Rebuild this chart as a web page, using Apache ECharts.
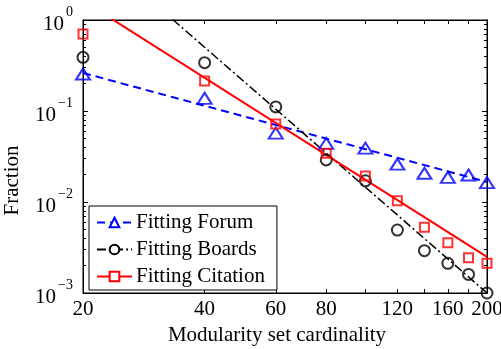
<!DOCTYPE html>
<html><head><meta charset="utf-8">
<script src="https://cdn.jsdelivr.net/npm/echarts@6/dist/echarts.min.js"></script>
<style>html,body{margin:0;padding:0;background:#fff}#c{width:501px;height:349px}</style>
</head><body><div id="c"></div>
<script>
// ---- data ----
const xValues = [20, 40, 60, 80, 100, 120, 140, 160, 180, 200];
const forum = [0.255, 0.138, 0.057, 0.044, 0.039, 0.026, 0.0207, 0.0187, 0.0198, 0.0163];
const boards = [0.389, 0.34, 0.111, 0.029, 0.0171, 0.00492, 0.00292, 0.00212, 0.0016, 0.001];
const citation = [0.70, 0.214, 0.072, 0.0343, 0.0193, 0.0103, 0.00527, 0.00357, 0.00244, 0.00212];
const fitX = [20, 200];
const forumFit = [0.262, 0.0166];
const boardsFit = [7.3, 0.001];
const citationFit = [1.63, 0.0025];
const xTickValues = [20, 40, 60, 80, 100, 120, 140, 160, 180, 200];
const xTickLabels = [20, 40, 60, 80, 120, 160, 200];
const yDecades = [-3, -2, -1, 0];
const yMinorMult = [2, 3, 4, 5, 6, 7, 8, 9];
const seriesNames = ['Fitting Forum', 'Fitting Boards', 'Fitting Citation'];

// ---- helpers ----
const L = Math.log10;
const FONT = "'Liberation Serif','Times New Roman',serif";
const pts = (xs, ys) => xs.map((x, i) => [L(x), L(ys[i])]);
const yMinor = [];
yDecades.slice(0, -1).forEach(d => yMinorMult.forEach(m => yMinor.push(d + L(m))));

const xMin = L(20), xMax = L(200);
function xAxisDef(pos, show) {
  return {
    show: true, type: 'value', position: pos, min: xMin, max: xMax, gridIndex: 0,
    axisLine: { show: true, onZero: false, lineStyle: { color: '#000', width: 1 } },
    axisTick: { show: true, inside: true, length: 4, customValues: xTickValues.map(L), lineStyle: { color: '#000' } },
    axisLabel: show ? {
      show: true, customValues: xTickLabels.map(L), margin: 6, hideOverlap: false,
      formatter: v => String(Math.round(Math.pow(10, v))),
      color: '#000', fontSize: 21, fontFamily: FONT
    } : { show: false },
    splitLine: { show: false },
    name: show ? 'Modularity set cardinality' : '',
    nameLocation: 'middle', nameGap: 28,
    nameTextStyle: { color: '#000', fontSize: 21, fontFamily: FONT, padding: [0, 16, 0, 0] }
  };
}
function yAxisDef(pos, major, show) {
  return {
    show: true, type: 'value', position: pos, min: -3, max: 0, gridIndex: 0,
    axisLine: { show: true, onZero: false, lineStyle: { color: '#000', width: 1 } },
    axisTick: { show: true, inside: true, length: major ? 5 : 3, customValues: major ? yDecades : yMinor, lineStyle: { color: '#000' } },
    axisLabel: show ? {
      show: true, customValues: yDecades, margin: 10,
      formatter: v => { const e = Math.round(v); return '{b|10}{s|' + (e === 0 ? '0' : '\u2212' + (-e)) + '}'; },
      color: '#000', fontFamily: FONT,
      rich: {
        b: { fontSize: 21, fontFamily: FONT, color: '#000', verticalAlign: 'bottom', lineHeight: 30 },
        s: { fontSize: 14, fontFamily: FONT, color: '#000', verticalAlign: 'top', lineHeight: 30, padding: [0, 0, 0, 2] }
      }
    } : { show: false },
    splitLine: { show: false },
    name: show ? 'Fraction' : '',
    nameLocation: 'middle', nameGap: 60, nameRotate: 90,
    nameTextStyle: { color: '#000', fontSize: 21, fontFamily: FONT, padding: [0, 48, 0, 0] }
  };
}

const colors = ['#0000ff', '#000000', '#ff0000'];
const symbols = ['triangle', 'circle', 'rect'];
const sizes = [[14, 11], 11, 9];
const lineTypes = [[8, 5], [9, 3, 2, 3], 'solid'];
const lineWidths = [2, 1.5, 2];
const fits = [forumFit, boardsFit, citationFit];
const marks = [forum, boards, citation];

const series = [];
seriesNames.forEach((nm, i) => {
  series.push({
    name: nm, type: 'line', data: pts(fitX, fits[i]), clip: true,
    showSymbol: false, symbol: 'empty' + symbols[i][0].toUpperCase() + symbols[i].slice(1), symbolSize: sizes[i],
    lineStyle: { color: colors[i], width: lineWidths[i], type: lineTypes[i] },
    itemStyle: { color: colors[i], borderWidth: 2 },
    silent: true, animation: false, z: 2
  });
});
seriesNames.forEach((nm, i) => {
  series.push({
    name: nm, type: 'scatter', data: pts(xValues, marks[i]),
    symbol: symbols[i], symbolSize: sizes[i],
    itemStyle: { color: 'rgba(0,0,0,0)', borderColor: colors[i], borderWidth: 2 },
    silent: true, animation: false, z: 3
  });
});
// bind invisible helper series to the top / right axes so they are laid out
series.push({ type: 'line', xAxisIndex: 1, yAxisIndex: 2, data: [], silent: true });
series.push({ type: 'line', xAxisIndex: 1, yAxisIndex: 3, data: [], silent: true });
series.push({ type: 'line', xAxisIndex: 0, yAxisIndex: 1, data: [], silent: true });

const chart = echarts.init(document.getElementById('c'), null, { renderer: 'canvas' });
chart.setOption({
  animation: false,
  backgroundColor: '#fff',
  grid: { left: 83, right: 14, top: 20, bottom: 56, containLabel: false, outerBoundsMode: 'none',
          show: true, borderColor: '#000', borderWidth: 1, backgroundColor: 'transparent' },
  xAxis: [xAxisDef('bottom', true), xAxisDef('top', false)],
  yAxis: [yAxisDef('left', true, true), yAxisDef('left', false, false), yAxisDef('right', true, false), yAxisDef('right', false, false)],
  legend: {
    data: seriesNames, orient: 'vertical', left: 89, top: 206,
    itemWidth: 35, itemHeight: 12, itemGap: 6,
    padding: [6, 12, 3, 7],
    backgroundColor: '#fff', borderColor: '#000', borderWidth: 1, borderRadius: 0,
    textStyle: { color: '#000', fontSize: 21, fontFamily: FONT, padding: [0, 0, 0, -1] },
    selectedMode: false
  },
  series: series
});
</script></body></html>
